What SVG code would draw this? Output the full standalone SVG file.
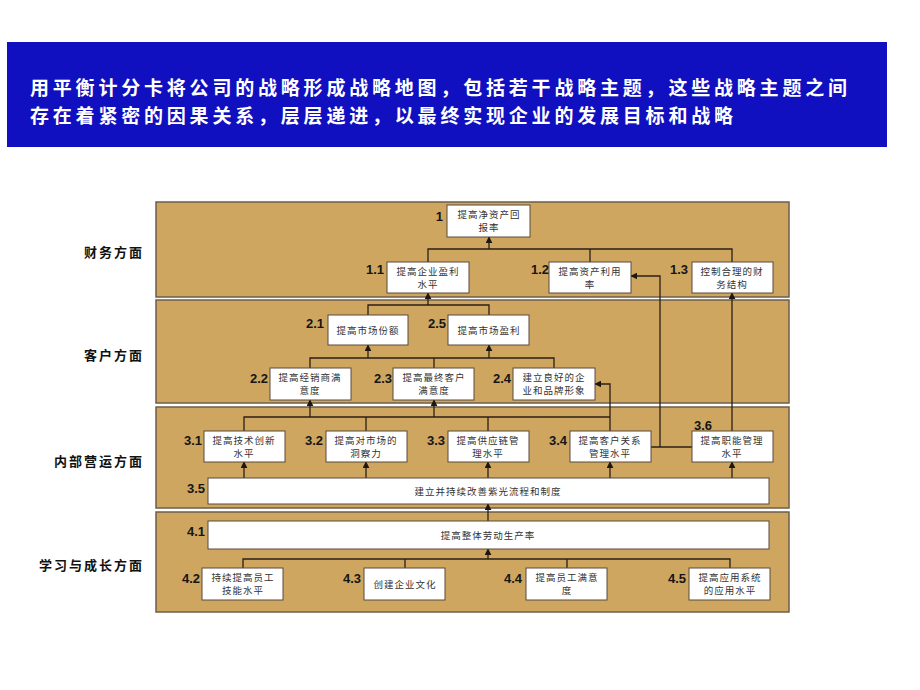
<svg xmlns="http://www.w3.org/2000/svg" width="920" height="690" viewBox="0 0 920 690">
<defs>
<marker id="ah" viewBox="0 0 10 10" refX="9" refY="5" markerWidth="7" markerHeight="7" markerUnits="userSpaceOnUse" orient="auto">
<path d="M0,0 L10,5 L0,10 z" fill="#1e1710"/>
</marker>
<style>
.band{fill:#CFA660;stroke:#6E5E4A;stroke-width:1.5}
.box{fill:#ffffff;stroke:#5A4A3A;stroke-width:1}
.num{font-family:"Liberation Sans",Arial,sans-serif;font-weight:bold;font-size:13px;fill:#151515;text-anchor:end}
.t{font-family:"Noto Sans CJK SC","Noto Sans CJK TC",sans-serif;font-size:9.5px;fill:#333;text-anchor:middle;letter-spacing:1px}
.side{font-family:"Noto Sans CJK SC","Noto Sans CJK TC",sans-serif;font-weight:bold;font-size:13px;fill:#111;text-anchor:end;letter-spacing:2px}
.hd{font-family:"Noto Sans CJK SC","Noto Sans CJK TC",sans-serif;font-weight:bold;font-size:19px;fill:#ffffff;letter-spacing:3.8px}
.c{stroke:#2a2016;stroke-width:1.3;fill:none}
.a{stroke:#2a2016;stroke-width:1.3;fill:none;marker-end:url(#ah)}
</style>
</defs>
<rect width="920" height="690" fill="#ffffff"/>

<g id="header">
<rect x="7" y="42" width="880" height="105" fill="#1010C0"/>
<text class="hd" x="30" y="95">用平衡计分卡将公司的战略形成战略地图，包括若干战略主题，这些战略主题之间</text>
<text class="hd" x="30" y="123">存在着紧密的因果关系，层层递进，以最终实现企业的发展目标和战略</text>
</g>

<g id="bands">
<rect class="band" x="156" y="202" width="633" height="95"/>
<rect class="band" x="156" y="300" width="633" height="103"/>
<rect class="band" x="156" y="407" width="633" height="101"/>
<rect class="band" x="156" y="512" width="633" height="100"/>
<text class="side" x="144" y="257">财务方面</text>
<text class="side" x="144" y="360">客户方面</text>
<text class="side" x="144" y="466">内部营运方面</text>
<text class="side" x="144" y="570">学习与成长方面</text>
</g>

<g id="connectors">
<path class="c" d="M428,262 V249 H732 V262 M590,262 V249"/>
<path class="a" d="M489,249 V237"/>
<path class="c" d="M368,315 V305 H489 V315"/>
<path class="a" d="M428,305 V293"/>
<path class="c" d="M310,368 V358 H554 V368 M434,358 V368"/>
<path class="a" d="M368,358 V345"/>
<path class="a" d="M489,358 V345"/>
<path class="c" d="M244,431 V417 H610 M366,431 V417 M488,431 V417"/>
<path class="a" d="M310,417 V400"/>
<path class="a" d="M434,417 V400"/>
<path class="a" d="M610,431 V384 H595"/>
<path class="c" d="M651,447 H692"/>
<path class="a" d="M660,447 V276 H631"/>
<path class="a" d="M732,431 V293"/>
<path class="a" d="M244,478 V462"/>
<path class="a" d="M366,478 V462"/>
<path class="a" d="M488,478 V462"/>
<path class="a" d="M610,478 V462"/>
<path class="a" d="M732,478 V462"/>
<path class="a" d="M488,521 V504"/>
<path class="c" d="M243,568 V559 H730 V568 M405,568 V559 M567,568 V559"/>
<path class="a" d="M488,559 V549"/>
</g>

<g id="n1"><rect class="box" x="447" y="205" width="83" height="32"/><text class="num" x="443" y="221">1</text><text class="t" x="489" y="218">提高净资产回</text><text class="t" x="489" y="231">报率</text></g>
<g id="n1_1"><rect class="box" x="387" y="262" width="82" height="31"/><text class="num" x="384" y="274">1.1</text><text class="t" x="428" y="275">提高企业盈利</text><text class="t" x="428" y="288">水平</text></g>
<g id="n1_2"><rect class="box" x="549" y="262" width="82" height="31"/><text class="num" x="549" y="274">1.2</text><text class="t" x="590" y="275">提高资产利用</text><text class="t" x="590" y="288">率</text></g>
<g id="n1_3"><rect class="box" x="692" y="262" width="81" height="31"/><text class="num" x="688" y="274">1.3</text><text class="t" x="732" y="275">控制合理的财</text><text class="t" x="732" y="288">务结构</text></g>

<g id="n2_1"><rect class="box" x="328" y="315" width="80" height="30"/><text class="num" x="324" y="328">2.1</text><text class="t" x="368" y="333.5">提高市场份额</text></g>
<g id="n2_5"><rect class="box" x="448" y="315" width="81" height="30"/><text class="num" x="446" y="328">2.5</text><text class="t" x="489" y="333.5">提高市场盈利</text></g>
<g id="n2_2"><rect class="box" x="270" y="368" width="81" height="32"/><text class="num" x="268" y="383">2.2</text><text class="t" x="310" y="381">提高经销商满</text><text class="t" x="310" y="394">意度</text></g>
<g id="n2_3"><rect class="box" x="393" y="368" width="81" height="32"/><text class="num" x="392" y="383">2.3</text><text class="t" x="434" y="381">提高最终客户</text><text class="t" x="434" y="394">满意度</text></g>
<g id="n2_4"><rect class="box" x="513" y="368" width="82" height="32"/><text class="num" x="511" y="383">2.4</text><text class="t" x="554" y="381">建立良好的企</text><text class="t" x="554" y="394">业和品牌形象</text></g>

<g id="n3_1"><rect class="box" x="204" y="431" width="81" height="31"/><text class="num" x="202" y="445">3.1</text><text class="t" x="244" y="443.5">提高技术创新</text><text class="t" x="244" y="456.5">水平</text></g>
<g id="n3_2"><rect class="box" x="326" y="431" width="81" height="31"/><text class="num" x="323" y="445">3.2</text><text class="t" x="366" y="443.5">提高对市场的</text><text class="t" x="366" y="456.5">洞察力</text></g>
<g id="n3_3"><rect class="box" x="448" y="431" width="81" height="31"/><text class="num" x="445" y="445">3.3</text><text class="t" x="488" y="443.5">提高供应链管</text><text class="t" x="488" y="456.5">理水平</text></g>
<g id="n3_4"><rect class="box" x="570" y="431" width="81" height="31"/><text class="num" x="567" y="445">3.4</text><text class="t" x="610" y="443.5">提高客户关系</text><text class="t" x="610" y="456.5">管理水平</text></g>
<g id="n3_6"><rect class="box" x="692" y="431" width="81" height="31"/><text class="num" x="712" y="430">3.6</text><text class="t" x="732" y="443.5">提高职能管理</text><text class="t" x="732" y="456.5">水平</text></g>
<g id="n3_5"><rect class="box" x="208" y="478" width="561" height="26"/><text class="num" x="205" y="493">3.5</text><text class="t" x="488" y="494.5">建立并持续改善紫光流程和制度</text></g>

<g id="n4_1"><rect class="box" x="208" y="521" width="561" height="28"/><text class="num" x="205" y="536">4.1</text><text class="t" x="488" y="538.5">提高整体劳动生产率</text></g>
<g id="n4_2"><rect class="box" x="202" y="568" width="81" height="32"/><text class="num" x="200" y="583">4.2</text><text class="t" x="243" y="581">持续提高员工</text><text class="t" x="243" y="594">技能水平</text></g>
<g id="n4_3"><rect class="box" x="364" y="568" width="81" height="32"/><text class="num" x="361" y="583">4.3</text><text class="t" x="405" y="587.5">创建企业文化</text></g>
<g id="n4_4"><rect class="box" x="526" y="568" width="81" height="32"/><text class="num" x="522" y="583">4.4</text><text class="t" x="567" y="581">提高员工满意</text><text class="t" x="567" y="594">度</text></g>
<g id="n4_5"><rect class="box" x="689" y="568" width="81" height="32"/><text class="num" x="686" y="583">4.5</text><text class="t" x="730" y="581">提高应用系统</text><text class="t" x="730" y="594">的应用水平</text></g>
</svg>
